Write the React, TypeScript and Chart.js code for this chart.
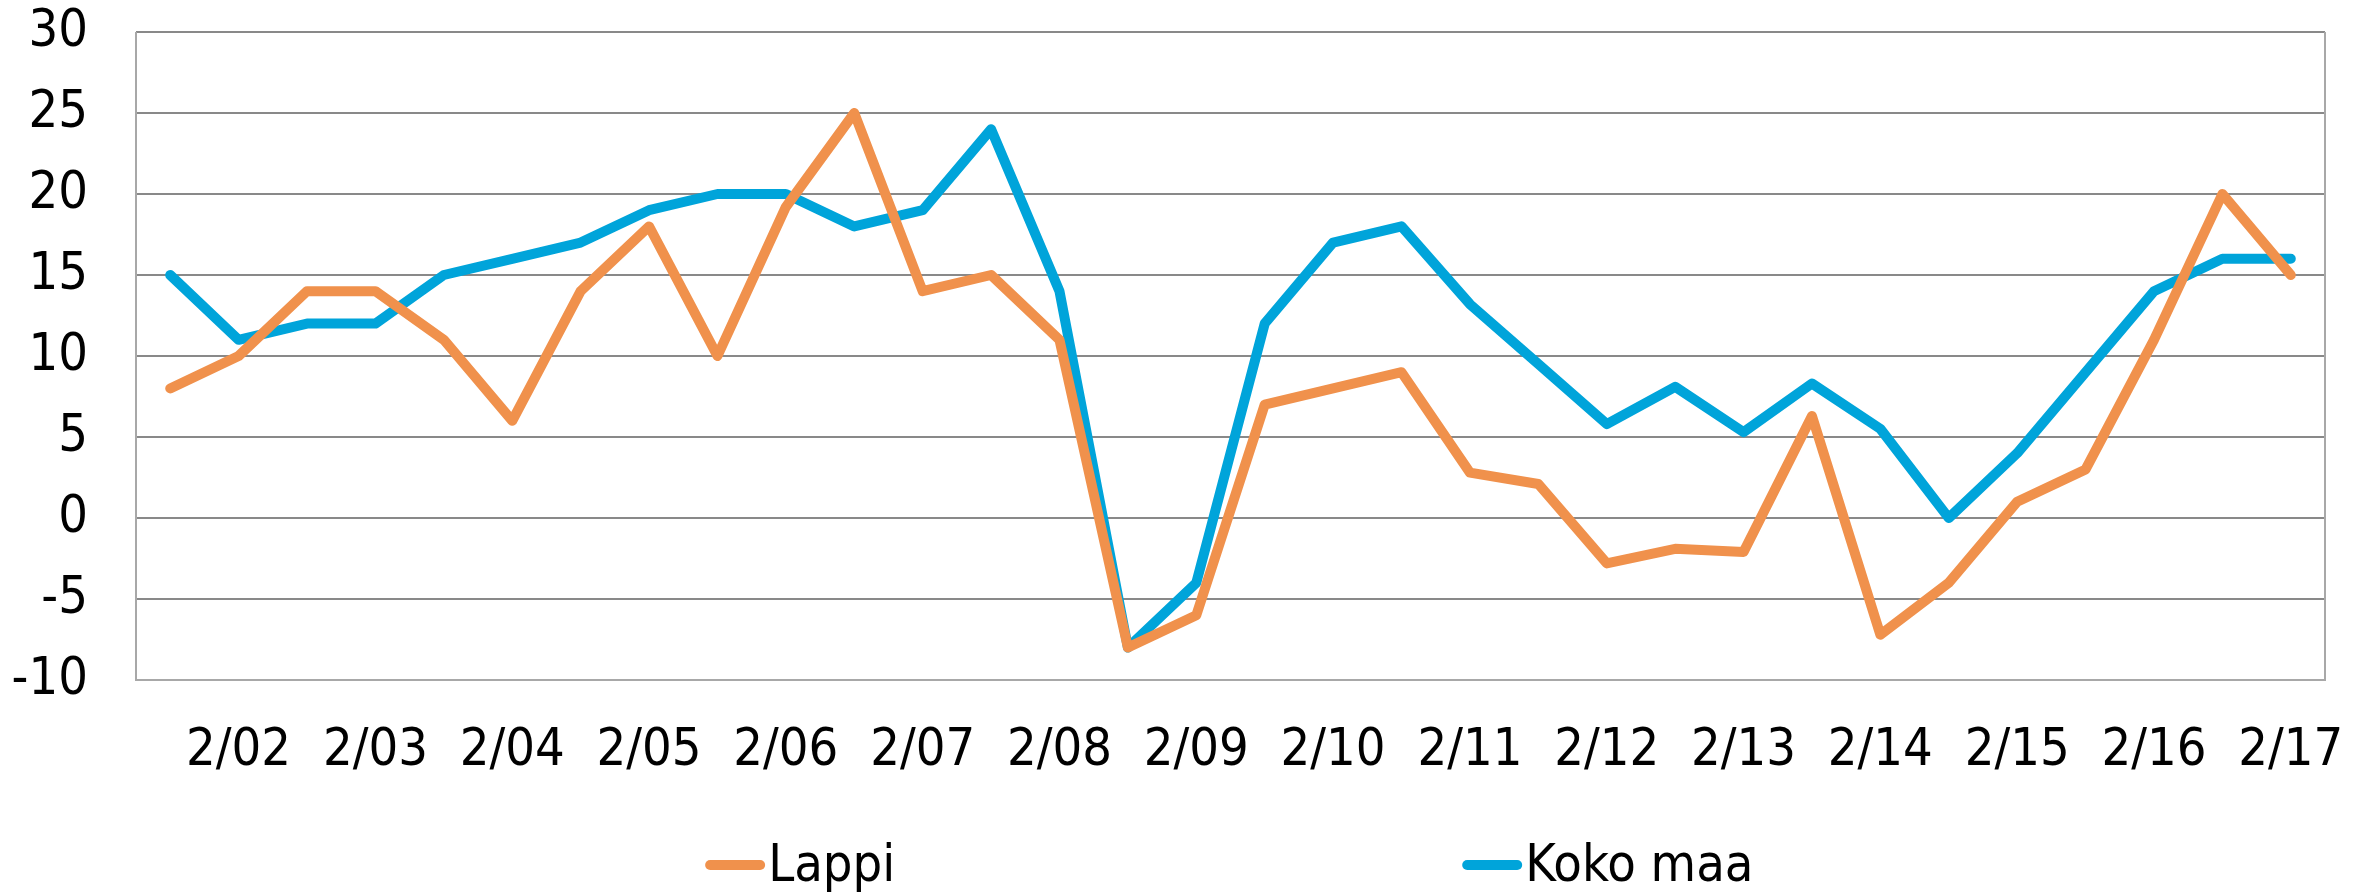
import React, { useEffect, useRef } from "react";
import { Chart, registerables } from "chart.js";

Chart.register(...registerables);

const categories: string[] = [
  "8/01", "2/02", "8/02", "2/03", "8/03", "2/04", "8/04", "2/05",
  "8/05", "2/06", "8/06", "2/07", "8/07", "2/08", "8/08", "2/09",
  "8/09", "2/10", "8/10", "2/11", "8/11", "2/12", "8/12", "2/13",
  "8/13", "2/14", "8/14", "2/15", "8/15", "2/16", "8/16", "2/17",
];

const lappi: number[] = [
  8, 10, 14, 14, 11, 6, 14, 18,
  10, 19.2, 25, 14, 15, 11, -8, -6,
  7, 8, 9, 2.8, 2.1, -2.8, -1.9, -2.1,
  6.3, -7.2, -4, 1, 3, 11, 20, 15,
];

const kokoMaa: number[] = [
  15, 11, 12, 12, 15, 16, 17, 19,
  20, 20, 18, 19, 24, 14, -8, -4,
  12, 17, 18, 13.2, 9.5, 5.8, 8.1, 5.3,
  8.3, 5.5, 0, 4, 9, 14, 16, 16,
];

const yTicks = { min: -10, max: 30, step: 5 };

const ORANGE = "#F0914C";
const BLUE = "#00A4DA";
const FONT = "'DejaVu Sans Condensed', 'Liberation Sans Narrow', sans-serif";

const seriesNames = ["Lappi", "Koko maa"];
const seriesColors = [ORANGE, BLUE];

const frameAndLegend = {
  id: "frameAndLegend",
  beforeDatasetsDraw(chart: any) {
    const { ctx, chartArea } = chart;
    ctx.save();
    ctx.strokeStyle = "#A8A8A8";
    ctx.lineWidth = 2;
    ctx.beginPath();
    ctx.moveTo(chartArea.left, chartArea.top);
    ctx.lineTo(chartArea.left, chartArea.bottom);
    ctx.lineTo(chartArea.right, chartArea.bottom);
    ctx.lineTo(chartArea.right, chartArea.top);
    ctx.stroke();
    ctx.restore();
  },
  afterDraw(chart: any) {
    const { ctx, width } = chart;
    const starts = [0.2974, 0.6167];
    const y = 865;
    ctx.save();
    ctx.font = `52px ${FONT}`;
    ctx.textBaseline = "middle";
    ctx.fillStyle = "#000";
    seriesNames.forEach((name, i) => {
      const x0 = width * starts[i];
      ctx.strokeStyle = seriesColors[i];
      ctx.lineWidth = 10;
      ctx.lineCap = "round";
      ctx.beginPath();
      ctx.moveTo(x0 + 5, y);
      ctx.lineTo(x0 + 55, y);
      ctx.stroke();
      ctx.fillText(name, x0 + 63, y + 2);
    });
    ctx.restore();
  },
};

export default function App() {
  const ref = useRef<HTMLCanvasElement | null>(null);

  useEffect(() => {
    if (!ref.current) return;
    const chart = new Chart(ref.current, {
      type: "line",
      data: {
        labels: categories,
        datasets: [
          {
            label: seriesNames[0],
            data: lappi,
            borderColor: ORANGE,
            backgroundColor: ORANGE,
            borderWidth: 10,
            pointRadius: 0,
            borderJoinStyle: "round",
            borderCapStyle: "round",
            tension: 0,
          },
          {
            label: seriesNames[1],
            data: kokoMaa,
            borderColor: BLUE,
            backgroundColor: BLUE,
            borderWidth: 10,
            pointRadius: 0,
            borderJoinStyle: "round",
            borderCapStyle: "round",
            tension: 0,
          },
        ],
      },
      options: {
        animation: false,
        responsive: false,
        maintainAspectRatio: false,
        layout: { padding: { top: 32, right: 46, bottom: 0, left: 0 } },
        plugins: {
          legend: { display: false },
          tooltip: { enabled: false },
        },
        scales: {
          x: {
            offset: true,
            grid: { display: false, drawTicks: false },
            border: { display: false },
            ticks: {
              autoSkip: false,
              maxRotation: 0,
              minRotation: 0,
              padding: 40,
              color: "#000",
              font: { family: FONT, size: 52 },
              callback: (_v: any, i: number) =>
                categories[i].startsWith("2/") ? categories[i] : "",
            },
            afterFit: (scale: any) => {
              scale.height = 212;
              scale.paddingLeft = 0;
              scale.paddingRight = 0;
            },
          },
          y: {
            min: yTicks.min,
            max: yTicks.max,
            grid: {
              color: "#898989",
              lineWidth: 2,
              drawTicks: false,
            },
            border: { display: false },
            ticks: {
              stepSize: yTicks.step,
              padding: 48,
              color: "#000",
              font: { family: FONT, size: 52 },
            },
            afterFit: (scale: any) => {
              scale.width = 136;
              scale.paddingTop = 0;
              scale.paddingBottom = 0;
            },
          },
        },
      },
      plugins: [frameAndLegend],
    });
    return () => chart.destroy();
  }, []);

  return (
    <div style={{ position: "fixed", left: 0, top: 0, width: 2371, height: 892, background: "#fff" }}>
      <canvas ref={ref} width={2371} height={892} style={{ display: "block" }} />
    </div>
  );
}
